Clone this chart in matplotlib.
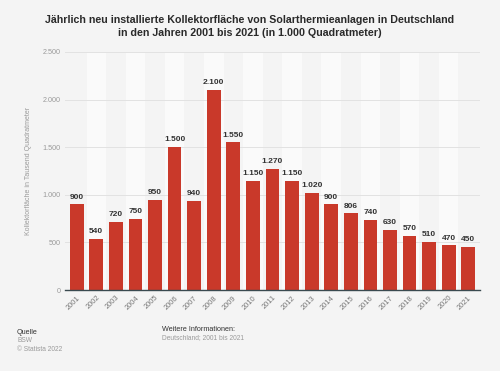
import matplotlib
matplotlib.use("Agg")
import matplotlib.pyplot as plt
import numpy as np

plt.rcParams["font.family"] = ["Liberation Sans", "DejaVu Sans"]

years = [str(y) for y in range(2001, 2022)]
values = [900, 540, 720, 750, 950, 1500, 940, 2100, 1550, 1150, 1270,
          1150, 1020, 900, 806, 740, 630, 570, 510, 470, 450]
yticks = [0, 500, 1000, 1500, 2000, 2500]

BG = "#f4f4f4"
BAR = "#c9392a"

def fmt(v):
    return f"{v:,}".replace(",", ".")

fig = plt.figure(figsize=(5.0, 3.71), dpi=100, facecolor=BG)
ax = fig.add_axes([0.13, 0.218, 0.83, 0.642])
ax.set_facecolor(BG)

x = np.arange(len(years))
# light alternating column bands
for i in x:
    if i % 2 == 1:
        ax.axvspan(i - 0.5, i + 0.5, color="#fafafa", zorder=0, lw=0)

ax.set_ylim(0, 2500)
ax.set_xlim(-0.6, len(years) - 0.4)
ax.set_yticks(yticks)
ax.set_yticklabels([fmt(t) for t in yticks], fontsize=5.2, color="#9a9a9a")
ax.yaxis.grid(True, color="#e2e2e2", lw=0.7, zorder=1)
ax.set_axisbelow(True)

bars = ax.bar(x, values, width=0.7, color=BAR, zorder=3)
for xi, v in zip(x, values):
    ax.text(xi, v + 40, fmt(v), ha="center", va="bottom", fontsize=6.0,
            fontweight="bold", color="#333333", zorder=4)

ax.set_xticks(x)
ax.set_xticklabels(years, rotation=45, ha="right", rotation_mode="anchor",
                   fontsize=5.4, color="#777777")
ax.tick_params(length=0, pad=3)
for s in ("top", "right", "left"):
    ax.spines[s].set_visible(False)
ax.spines["bottom"].set_color("#3a4a50")
ax.spines["bottom"].set_linewidth(1.0)
ax.spines["bottom"].set_zorder(5)

ax.set_ylabel("Kollektorfläche in Tausend Quadratmeter", fontsize=5.0,
              color="#9a9a9a", labelpad=8)

fig.text(0.5, 0.96, "Jährlich neu installierte Kollektorfläche von Solarthermieanlagen in Deutschland\n"
         "in den Jahren 2001 bis 2021 (in 1.000 Quadratmeter)",
         ha="center", va="top", fontsize=7.7, fontweight="bold", color="#2a2a2a",
         linespacing=1.45)

fig.text(0.034, 0.105, "Quelle", fontsize=5.2, color="#333333", va="center")
fig.text(0.034, 0.081, "BSW", fontsize=4.8, color="#9a9a9a", va="center")
fig.text(0.034, 0.058, "© Statista 2022", fontsize=4.8, color="#9a9a9a", va="center")
fig.text(0.325, 0.113, "Weitere Informationen:", fontsize=5.2, color="#333333", va="center")
fig.text(0.325, 0.091, "Deutschland; 2001 bis 2021", fontsize=4.8, color="#9a9a9a", va="center")

fig.savefig("out.png", dpi=100, facecolor=BG)
